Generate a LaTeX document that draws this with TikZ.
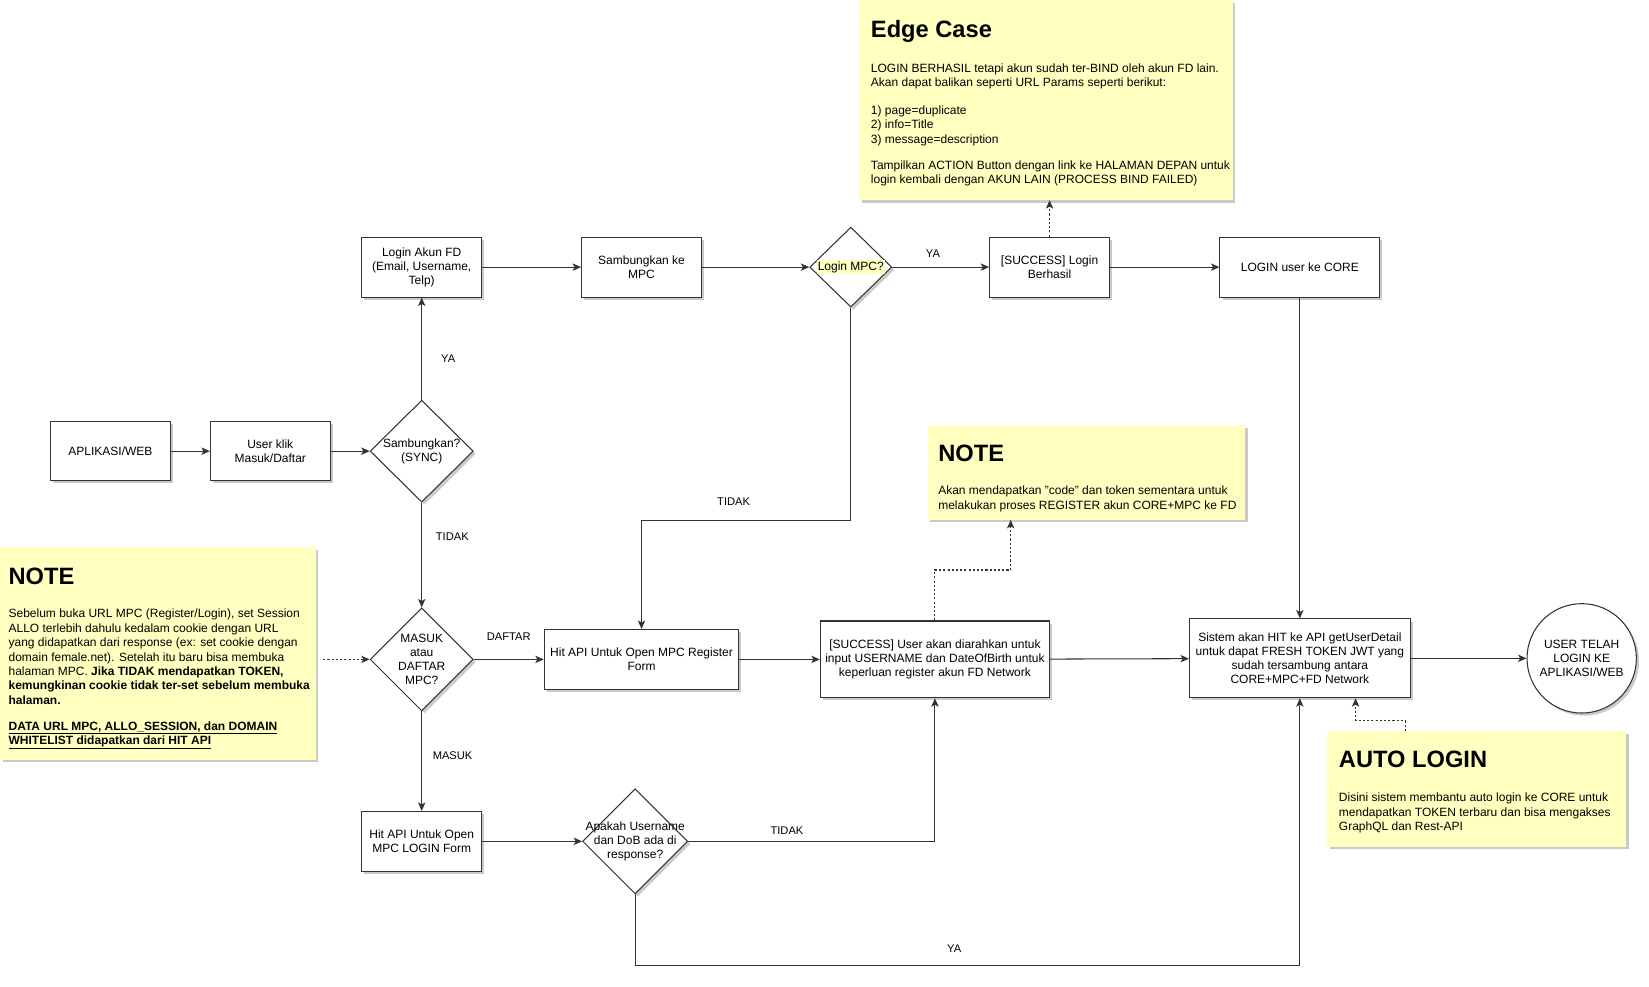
\documentclass[tikz,border=0pt]{standalone}
\usepackage{fontspec}
\setmainfont{Liberation Sans}
\usetikzlibrary{arrows.meta,shapes.geometric,shadows,calc}
\definecolor{notefill}{HTML}{FFFFC0}
\definecolor{edgegray}{HTML}{333333}
\setlength{\fboxsep}{1pt}

\begin{document}
\begin{tikzpicture}[x=1pt,y=-1pt,
    every node/.style={font=\fontsize{11.4}{13.5}\selectfont},
    softshadow/.style={drop shadow={shadow xshift=2.5pt,shadow yshift=-2.5pt,opacity=.35,fill=black!60}},
    box/.style={draw=edgegray,line width=1pt,fill=white,align=center,inner sep=2pt,softshadow},
    decision/.style={diamond,draw=edgegray,line width=1pt,fill=white,inner sep=0pt,softshadow},
    dtext/.style={align=center,inner sep=0pt},
    note/.style={fill=notefill,inner sep=0pt,anchor=north west,softshadow},
    notetitle/.style={font=\fontsize{22.5}{26}\selectfont\bfseries,anchor=west,inner sep=0pt},
    notetext/.style={font=\fontsize{11.4}{13.7}\selectfont,align=left,anchor=north west,inner sep=0pt},
    lbl/.style={font=\fontsize{10.6}{13}\selectfont,inner sep=1pt},
    flow/.style={draw=edgegray,line width=1pt,-{Stealth[length=8pt,width=7pt,inset=2pt]}},
    hint/.style={flow,dash pattern=on 2pt off 2pt}]
    \useasboundingbox (0,0) rectangle (1568,937.6);

    \node[note,minimum width=355pt,minimum height=190pt] (edgenote) at (817,0) {};
    \node[notetitle] (edgetitle) at (828,30) {Edge Case};
    \node[notetext] (edgebody) at (828,60) {LOGIN BERHASIL tetapi akun sudah ter-BIND oleh akun FD lain.\\
        Akan dapat balikan seperti URL Params seperti berikut:\\[13pt]
        1) page=duplicate\\
        2) info=Title\\
        3) message=description\\[11pt]
        Tampilkan ACTION Button dengan link ke HALAMAN DEPAN untuk\\
        login kembali dengan AKUN LAIN (PROCESS BIND FAILED)};

    \node[note,minimum width=300pt,minimum height=202pt] (leftnote) at (0,520) {};
    \node[notetitle] (lefttitle) at (8,548) {NOTE};
    \node[notetext] (leftbody) at (8,579) {Sebelum buka URL MPC (Register/Login), set Session\\
        ALLO terlebih dahulu kedalam cookie dengan URL\\
        yang didapatkan dari response (ex: set cookie dengan\\
        domain female.net). Setelah itu baru bisa membuka\\
        halaman MPC. \textbf{Jika TIDAK mendapatkan TOKEN,}\\
        \textbf{kemungkinan cookie tidak ter-set sebelum membuka}\\
        \textbf{halaman.}\\[11pt]
        \textbf{\underline{DATA URL MPC, ALLO\_SESSION, dan DOMAIN}}\\
        \textbf{\underline{WHITELIST didapatkan dari HIT API}}};

    \node[note,minimum width=302pt,minimum height=90pt] (midnote) at (882,404) {};
    \node[notetitle] (midtitle) at (892,431) {NOTE};
    \node[notetext] (midbody) at (892,462) {Akan mendapatkan "code" dan token sementara untuk\\
        melakukan proses REGISTER akun CORE+MPC ke FD};

    \node[note,minimum width=284pt,minimum height=110pt] (autonote) at (1262,695) {};
    \node[notetitle] (autotitle) at (1273,722) {AUTO LOGIN};
    \node[notetext] (autobody) at (1273,754) {Disini sistem membantu auto login ke CORE untuk\\
        mendapatkan TOKEN terbaru dan bisa mengakses\\
        GraphQL dan Rest-API};

    \node[box,minimum width=114pt,minimum height=56pt] (aplikasi) at (105,429) {APLIKASI/WEB};
    \node[box,minimum width=114pt,minimum height=56pt] (klik) at (257,429) {User klik\\Masuk/Daftar};
    \node[decision,minimum width=98pt,minimum height=97pt,label={[dtext]center:Sambungkan?\\(SYNC)}] (sambung) at (401,429) {};
    \node[box,minimum width=114pt,minimum height=57pt] (loginfd) at (401,254) {Login Akun FD\\(Email, Username,\\Telp)};
    \node[box,minimum width=114pt,minimum height=57pt] (kempc) at (610,254) {Sambungkan ke\\MPC};
    \node[decision,minimum width=78pt,minimum height=76pt,label={[dtext]center:\colorbox{notefill}{Login MPC?}}] (loginmpc) at (809,254) {};
    \node[box,minimum width=114pt,minimum height=57pt] (berhasil) at (998,254) {[SUCCESS] Login\\Berhasil};
    \node[box,minimum width=152pt,minimum height=57pt] (core) at (1236,254) {LOGIN user ke CORE};
    \node[decision,minimum width=98pt,minimum height=98pt,label={[dtext]center:MASUK\\atau\\DAFTAR\\MPC?}] (masuk) at (401,627) {};
    \node[box,minimum width=185pt,minimum height=57pt] (regform) at (610,627) {Hit API Untuk Open MPC Register\\Form};
    \node[box,minimum width=218pt,minimum height=73pt] (successuser) at (889,627) {[SUCCESS] User akan diarahkan untuk\\input USERNAME dan DateOfBirth untuk\\keperluan register akun FD Network};
    \node[box,minimum width=210pt,minimum height=75pt] (sistem) at (1236,626) {Sistem akan HIT ke API getUserDetail\\untuk dapat FRESH TOKEN JWT yang\\sudah tersambung antara\\CORE+MPC+FD Network};
    \node[box,circle,minimum size=104pt,inner sep=0pt] (selesai) at (1504,626) {USER TELAH\\LOGIN KE\\APLIKASI/WEB};
    \node[box,minimum width=114pt,minimum height=57pt] (hitlogin) at (401,800) {Hit API Untuk Open\\MPC LOGIN Form};
    \node[decision,minimum width=100pt,minimum height=100pt,label={[dtext]center:Apakah Username\\dan DoB ada di\\response?}] (apakah) at (604,800) {};

    \draw[flow] (aplikasi) -- (klik);
    \draw[flow] (klik) -- (sambung);
    \draw[flow] (sambung) -- (loginfd) node[lbl,pos=.4,right=17pt] {YA};
    \draw[flow] (sambung) -- (masuk) node[lbl,pos=.32,right=12pt] {TIDAK};
    \draw[flow] (loginfd) -- (kempc);
    \draw[flow] (kempc) -- (loginmpc);
    \draw[flow] (loginmpc) -- (berhasil) node[lbl,pos=.42,above=8pt] {YA};
    \draw[flow] (berhasil) -- (core);
    \draw[flow] (core) -- (sistem);
    \draw[flow] (loginmpc.south) -- ++(0,202) -| (regform.north) node[lbl,pos=.28,above=12pt] {TIDAK};
    \draw[flow] (masuk) -- (regform) node[lbl,midway,above=16pt] {DAFTAR};
    \draw[flow] (masuk) -- (hitlogin) node[lbl,pos=.44,right=9pt] {MASUK};
    \draw[flow] (regform) -- (successuser);
    \draw[flow] (successuser) -- (sistem);
    \draw[flow] (sistem) -- (selesai);
    \draw[flow] (hitlogin) -- (apakah);
    \draw[flow] (apakah.east) -| (successuser.south) node[lbl,pos=.2,above=5pt] {TIDAK};
    \draw[flow] (apakah.south) -- ++(0,68) -| (sistem.south) node[lbl,pos=.24,above=11pt] {YA};

    \draw[hint] (berhasil.north) -- (berhasil.north |- edgenote.south);
    \draw[hint] (successuser.north) -- ++(0,-48) -| ($(midnote.south west)+(79,0)$);
    \draw[hint] ($(autonote.north west)+(74,0)$) -- ++(0,-10) -| ($(sistem.south)+(53,0)$);
    \draw[hint] ([xshift=7pt]masuk.west -| leftnote.east) -- (masuk.west);
\end{tikzpicture}
\end{document}
